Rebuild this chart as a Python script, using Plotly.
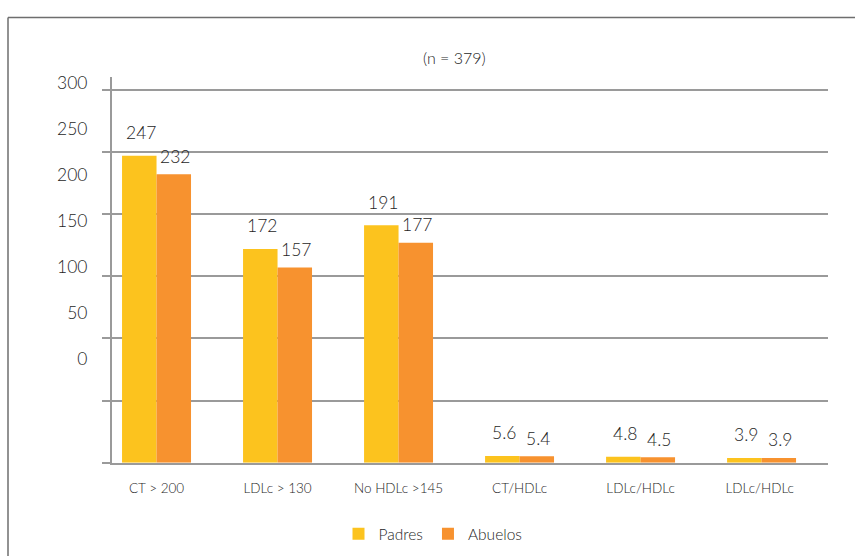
import plotly.graph_objects as go

categories = ["CT > 200", "LDLc > 130", "No HDLc >145", "CT/HDLc", "LDLc/HDLc", "LDLc/HDLc "]
padres = [247, 172, 191, 5.6, 4.8, 3.9]
abuelos = [232, 157, 177, 5.4, 4.5, 3.9]
y_ticks = [0, 50, 100, 150, 200, 250, 300]
title_text = "(n = 379)"

W, H = 855, 556
FONT = "Lato, 'Open Sans', sans-serif"
WEIGHT = 300
TXT = "#1e1e1e"
GRID = "#9a9a9a"
C_PAD = "#FCC31E"
C_ABU = "#F7922F"

def px_x(p):
    return p / W

def px_y(p):
    return 1 - p / H

def f(size):
    return dict(family=FONT, size=size, color=TXT, weight=WEIGHT)

fig = go.Figure()
fig.add_trace(go.Bar(name="Padres", x=categories, y=padres, marker_color=C_PAD,
                     marker_line_width=0, hoverinfo="x+y"))
fig.add_trace(go.Bar(name="Abuelos", x=categories, y=abuelos, marker_color=C_ABU,
                     marker_line_width=0, hoverinfo="x+y"))
# carrier trace so the offset label axis is drawn
fig.add_trace(go.Scatter(x=categories[:1], y=[None], yaxis="y2", showlegend=False,
                         hoverinfo="skip", mode="markers"))

annotations = []
for c, v in zip(categories, padres):
    annotations.append(dict(x=c, y=v, xref="x", yref="y", text=f"{v:g}", showarrow=False,
                            xshift=-16, yshift=23, yanchor="middle", font=f(17.5)))
for c, v in zip(categories, abuelos):
    annotations.append(dict(x=c, y=v, xref="x", yref="y", text=f"{v:g}", showarrow=False,
                            xshift=18, yshift=18, yanchor="middle", font=f(17.5)))
annotations.append(dict(x=px_x(454.5), y=px_y(53), xref="paper", yref="paper",
                        text=title_text, showarrow=False, xanchor="center", yanchor="middle",
                        font=f(16)))

plot_top, plot_bot = 73, 462
y_scale = 1.255
fig.update_layout(
    width=W, height=H,
    margin=dict(l=0, r=0, t=0, b=0),
    paper_bgcolor="white", plot_bgcolor="white",
    barmode="group", bargap=0.43, bargroupgap=0,
    showlegend=True,
    legend=dict(orientation="h", x=px_x(433), y=px_y(534), xanchor="center", yanchor="middle",
                font=f(15.5), traceorder="normal"),
    xaxis=dict(type="category", domain=[px_x(112), px_x(828)], range=[-0.368, 5.549],
               showline=True, linecolor=GRID, linewidth=2, showgrid=False,
               ticks="outside", ticklen=12, tickcolor="rgba(0,0,0,0)",
               tickfont=f(13.5)),
    yaxis=dict(domain=[px_y(plot_bot), px_y(plot_top)],
               range=[0, (plot_bot - plot_top) / y_scale],
               tickvals=y_ticks, showticklabels=False,
               showgrid=True, gridcolor=GRID, gridwidth=2, zeroline=False,
               showline=True, linecolor=GRID, linewidth=2,
               ticks="outside", ticklen=8, tickcolor=GRID, tickwidth=2),
    yaxis2=dict(overlaying="y", side="left", anchor="x",
                range=[-(plot_bot - 357.5) / 0.93, 300 + (78.5 - plot_top) / 0.93],
                tickvals=y_ticks, showgrid=False, zeroline=False, showline=False,
                ticks="outside", ticklen=20, tickcolor="rgba(0,0,0,0)",
                tickfont=f(17.5)),
    annotations=annotations,
    shapes=[
        dict(type="line", xref="paper", yref="paper", x0=px_x(8), x1=1, y0=px_y(12.5), y1=px_y(12.5),
             line=dict(color="#6e6e6e", width=1.5)),
        dict(type="line", xref="paper", yref="paper", x0=px_x(8), x1=px_x(8), y0=px_y(12.5), y1=0,
             line=dict(color="#6e6e6e", width=1.5)),
    ],
)

fig.write_html("out.html")
